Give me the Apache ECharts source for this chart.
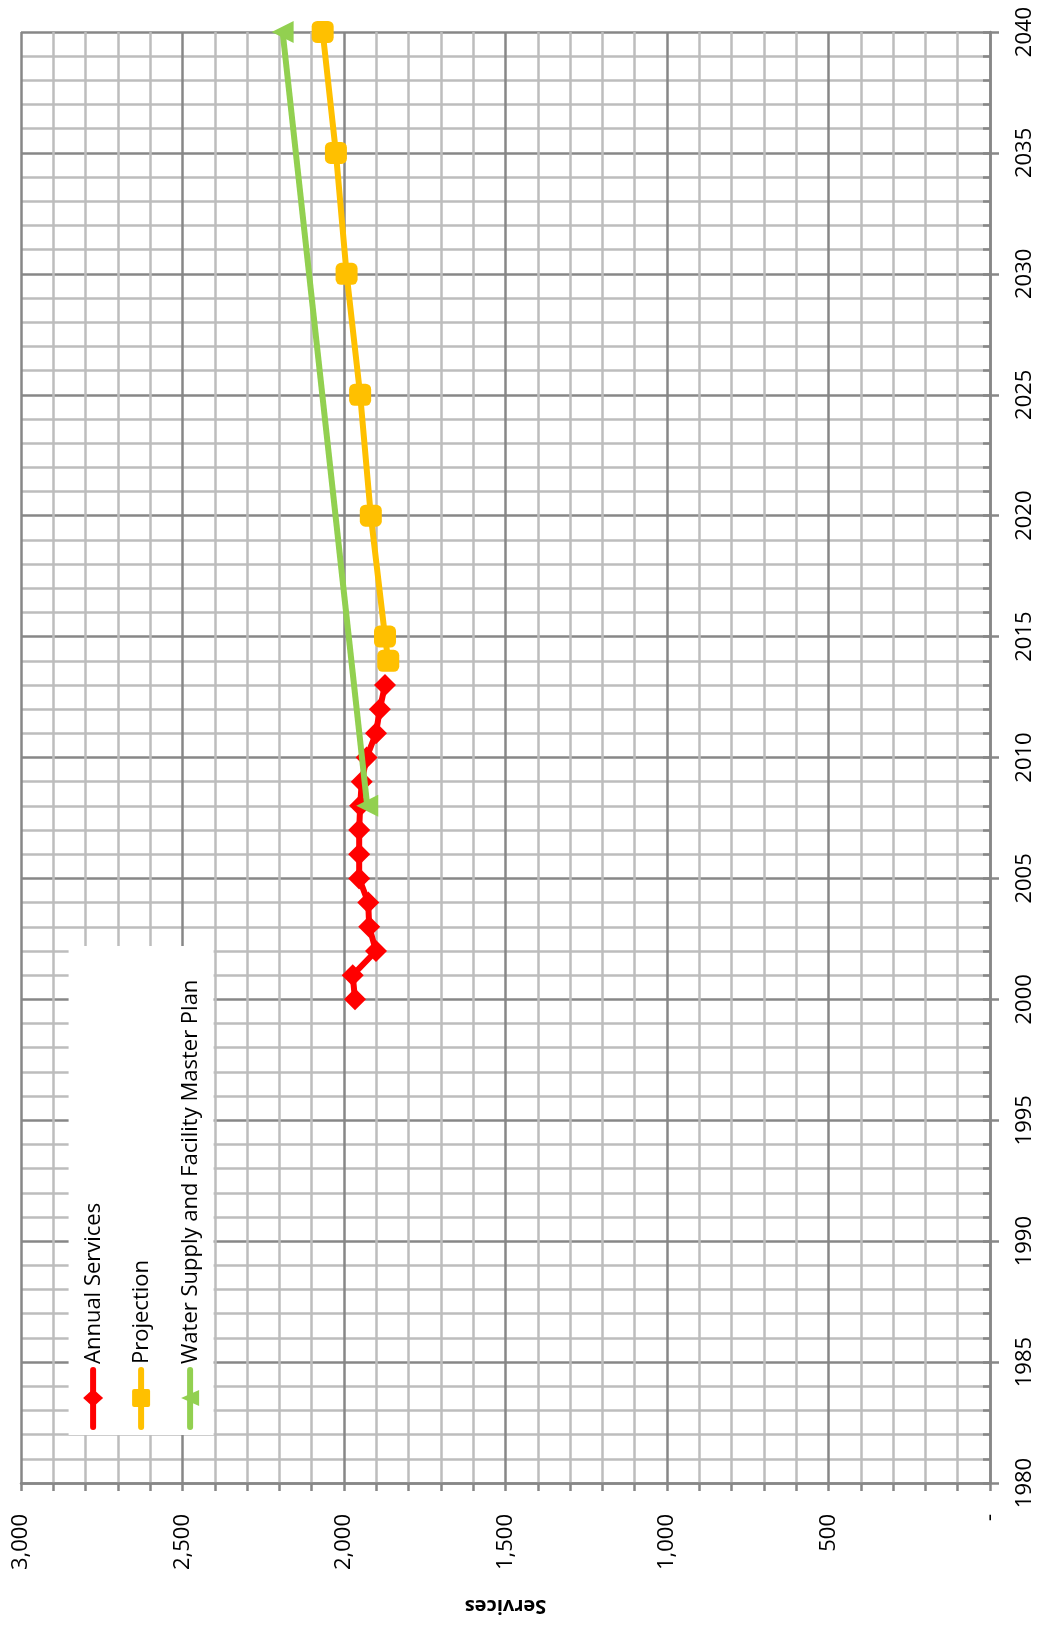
<!DOCTYPE html>
<html>
<head>
<meta charset="utf-8">
<title>Services</title>
<script src="https://cdn.jsdelivr.net/npm/echarts@6/dist/echarts.min.js"></script>
<style>
  html, body { margin: 0; padding: 0; background: #ffffff; }
  #chart { width: 1040px; height: 1631px; }
</style>
</head>
<body>
<div id="chart"></div>
<script>
// ---- data ----
const annualYears = [2000, 2001, 2002, 2003, 2004, 2005, 2006, 2007, 2008, 2009, 2010, 2011, 2012, 2013];
const annualServices = [1966, 1973, 1901, 1922, 1925, 1953, 1953, 1953, 1950, 1945, 1930, 1901, 1889, 1873];

const projectionYears = [2014, 2015, 2020, 2025, 2030, 2035, 2040];
const projectionServices = [1863, 1873, 1917, 1950, 1992, 2025, 2066];

const masterPlanYears = [2008, 2040];
const masterPlanServices = [1928, 2190];

const seriesNames = ['Annual Services', 'Projection', 'Water Supply and Facility Master Plan'];
const seriesColors = ['#FF0000', '#FFC000', '#92D050'];
const seriesSymbols = ['diamond', 'square', 'triangle'];

const yearRange = [1980, 2040];
const servicesRange = [0, 3000];
const axisTitle = 'Services';

// ---- styling ----
const FONT = '"Open Sans", "Noto Sans", sans-serif';
const MAJOR = '#878787';
const MINOR = '#bdbdbd';
const GRID = { left: 21, right: 50, top: 32, bottom: 148 };

function pairs(years, values) {
  return years.map((y, i) => [values[i], y]);
}
function withCommas(v) {
  return v === 0 ? '-' : String(v).replace(/\B(?=(\d{3})+(?!\d))/g, ',');
}

// Legend: a white panel with its entries laid out along the vertical,
// rotated so the text reads bottom-to-top like the axis labels.
function legendGroup() {
  const rowY = [24.5, 72.5, 121.5];
  const children = [{
    type: 'rect',
    shape: { x: 0, y: 0, width: 489, height: 145 },
    style: { fill: '#ffffff' },
    z: 10
  }];
  seriesNames.forEach((name, i) => {
    const cy = rowY[i];
    const color = seriesColors[i];
    children.push({
      type: 'line',
      shape: { x1: 8, y1: cy, x2: 65, y2: cy },
      style: { stroke: color, lineWidth: 6, lineCap: 'round' },
      z: 11
    });
    const cx = 37;
    let marker;
    if (seriesSymbols[i] === 'diamond') {
      marker = { type: 'polygon', shape: { points: [[cx - 9, cy], [cx, cy - 10], [cx + 9, cy], [cx, cy + 10]] } };
    } else if (seriesSymbols[i] === 'square') {
      marker = { type: 'rect', shape: { x: cx - 9, y: cy - 9, width: 18, height: 18, r: 2 } };
    } else {
      marker = { type: 'polygon', shape: { points: [[cx - 8, cy + 9], [cx + 8, cy + 9], [cx, cy - 9]] } };
    }
    marker.style = { fill: color };
    marker.z = 12;
    children.push(marker);
    children.push({
      type: 'text',
      x: 71,
      y: cy + 1,
      style: {
        text: name,
        font: '22px ' + FONT,
        fill: '#000000',
        verticalAlign: 'middle',
        align: 'left'
      },
      z: 12
    });
  });
  return {
    type: 'group',
    x: 68.6,
    y: 1435,
    rotation: Math.PI / 2,
    children: children
  };
}

const chart = echarts.init(document.getElementById('chart'), null, { renderer: 'canvas' });

const option = {
  animation: false,
  backgroundColor: '#ffffff',
  grid: [
    Object.assign({}, GRID),
    Object.assign({}, GRID)
  ],
  xAxis: [{
    gridIndex: 0,
    type: 'value',
    position: 'bottom',
    inverse: true,
    min: servicesRange[0],
    max: servicesRange[1],
    interval: 500,
    name: axisTitle,
    nameLocation: 'middle',
    nameGap: 113,
    nameRotate: 180,
    nameTextStyle: { fontFamily: FONT, fontSize: 20, fontWeight: 'bold', color: '#000' },
    axisLine: { show: true, lineStyle: { color: MAJOR, width: 2.5 } },
    axisTick: { show: true, length: 8, lineStyle: { color: MAJOR, width: 2.5 } },
    minorTick: { show: true, splitNumber: 5, length: 8, lineStyle: { color: MAJOR, width: 2.5 } },
    axisLabel: {
      rotate: 90,
      margin: 31,
      fontFamily: FONT,
      fontSize: 22,
      color: '#000',
      showMinLabel: true,
      showMaxLabel: true,
      formatter: withCommas
    },
    splitLine: { show: true, lineStyle: { color: MAJOR, width: 2.5 } },
    minorSplitLine: { show: true, lineStyle: { color: MINOR, width: 2.5 } }
  }, {
    gridIndex: 1,
    type: 'value',
    inverse: true,
    min: servicesRange[0],
    max: servicesRange[1],
    show: false
  }],
  yAxis: [{
    gridIndex: 0,
    type: 'value',
    position: 'right',
    min: yearRange[0],
    max: yearRange[1],
    interval: 5,
    axisLine: { show: true, lineStyle: { color: MAJOR, width: 2.5 } },
    axisTick: { show: true, length: 9, lineStyle: { color: MAJOR, width: 2.5 } },
    axisLabel: {
      rotate: 90,
      margin: 24,
      fontFamily: FONT,
      fontSize: 22,
      color: '#000',
      showMinLabel: true,
      showMaxLabel: true,
      formatter: (v) => String(v)
    },
    splitLine: { show: true, lineStyle: { color: MAJOR, width: 2.5 } },
    minorTick: { show: false },
    minorSplitLine: { show: true, lineStyle: { color: MINOR, width: 2.5 } }
  }, {
    // yearly ticks drawn inside the plot along the year axis
    gridIndex: 1,
    type: 'value',
    position: 'right',
    min: yearRange[0],
    max: yearRange[1],
    interval: 1,
    axisLine: { show: false },
    axisTick: { show: true, inside: true, length: 7, lineStyle: { color: MAJOR, width: 2.5 } },
    axisLabel: { show: false },
    splitLine: { show: false }
  }],
  series: [{
    name: seriesNames[0],
    type: 'line',
    xAxisIndex: 0,
    yAxisIndex: 0,
    data: pairs(annualYears, annualServices),
    symbol: 'diamond',
    symbolSize: 22,
    showAllSymbol: true,
    lineStyle: { color: seriesColors[0], width: 6 },
    itemStyle: { color: seriesColors[0] },
    z: 3
  }, {
    name: seriesNames[1],
    type: 'line',
    xAxisIndex: 0,
    yAxisIndex: 0,
    data: pairs(projectionYears, projectionServices),
    symbol: 'roundRect',
    symbolSize: 22,
    showAllSymbol: true,
    lineStyle: { color: seriesColors[1], width: 6 },
    itemStyle: { color: seriesColors[1] },
    z: 4
  }, {
    name: seriesNames[2],
    type: 'line',
    xAxisIndex: 0,
    yAxisIndex: 0,
    data: pairs(masterPlanYears, masterPlanServices),
    symbol: 'triangle',
    symbolRotate: 90,
    symbolSize: 22,
    showAllSymbol: true,
    lineStyle: { color: seriesColors[2], width: 6 },
    itemStyle: { color: seriesColors[2] },
    z: 5
  }],
  graphic: [legendGroup()]
};

chart.setOption(option);
</script>
</body>
</html>
